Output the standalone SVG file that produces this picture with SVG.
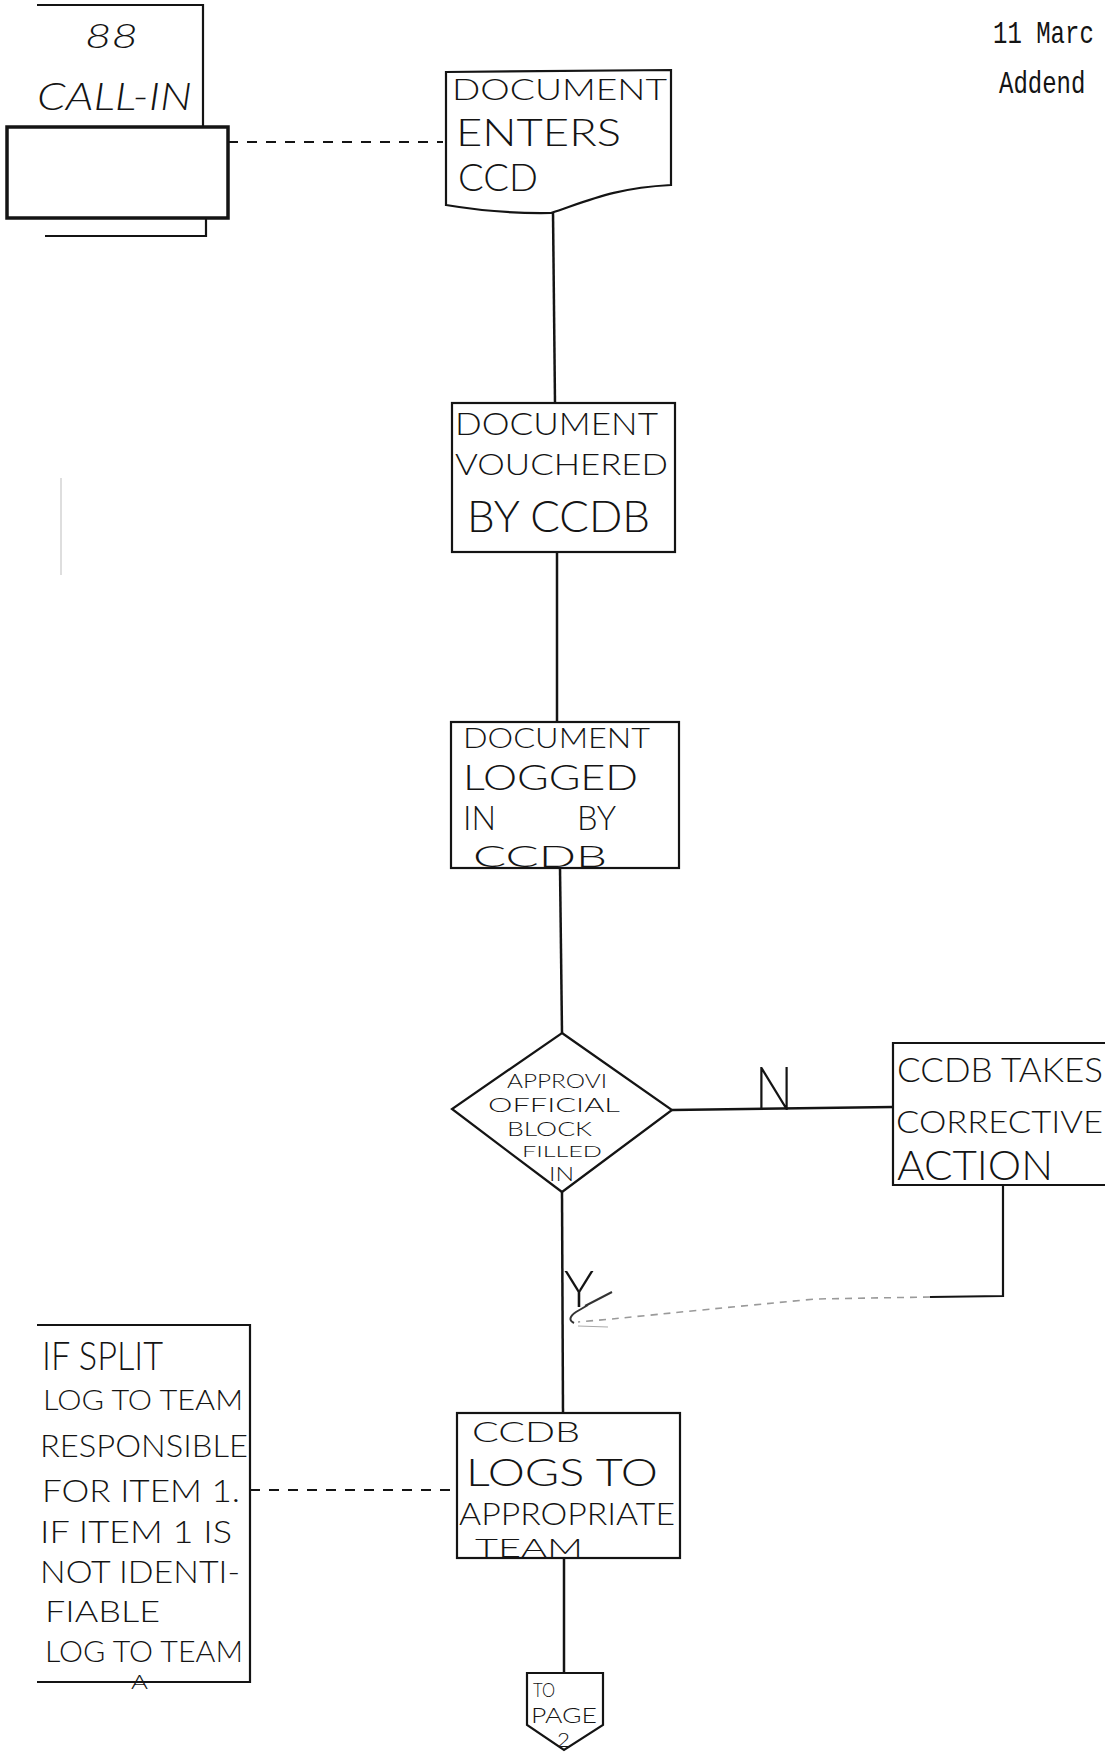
<svg xmlns="http://www.w3.org/2000/svg" width="1105" height="1752" viewBox="0 0 1105 1752">
<style>
.ln{fill:none;stroke:#141414;stroke-width:2.2;stroke-linejoin:miter}
.thick{fill:#fff;stroke:#141414;stroke-width:3.5}
.conn{fill:none;stroke:#141414;stroke-width:2.5}
.dash{fill:none;stroke:#141414;stroke-width:2;stroke-dasharray:10 9}
.faint{fill:none;stroke:#9a9a9a;stroke-width:1.6;stroke-dasharray:7 6}
.h{font-family:Lato,"DejaVu Sans","Liberation Sans",sans-serif;font-weight:300;fill:#141414}
.it{font-style:italic}
.type{font-family:"Liberation Mono","DejaVu Sans Mono",monospace;fill:#141414}
</style>
<rect x="0" y="0" width="1105" height="1752" fill="#fff"/>

<g id="header">
<text class="type" transform="translate(993,43) scale(1,1.3)" font-size="24">11 Marc</text>
<text class="type" transform="translate(999,93) scale(1,1.3)" font-size="24">Addend</text>
<line x1="61" y1="478" x2="61" y2="575" stroke="#c8c8c8" stroke-width="1.2"/>
</g>

<g id="connectors">
<path class="dash" d="M228,142 L443,142"/>
<path class="conn" d="M553,212 L555,403"/>
<path class="conn" d="M557,552 L557,722"/>
<path class="conn" d="M560,868 L562,1033"/>
<path class="conn" d="M672,1110 L893,1107"/>
<path class="conn" d="M562,1192 L563,1413"/>
<path class="ln" d="M1003,1185 L1003,1296 L930,1297"/>
<path class="faint" d="M930,1297 L815,1299 Q700,1310 612,1319 L578,1322"/>
<path fill="none" stroke="#333" stroke-width="2" d="M588,1305 L576,1312 Q566,1319 574,1323 M585,1306 L612,1292"/>
<path fill="none" stroke="#aaa" stroke-width="1.2" d="M578,1326 L608,1327"/>
<path class="conn" d="M564,1558 L564,1673"/>
<path class="dash" d="M250,1490 L457,1490"/>
<text class="h" x="755" y="1110" font-size="62" textLength="38" lengthAdjust="spacingAndGlyphs">N</text>
<text class="h" x="564" y="1307" font-size="52" textLength="30" lengthAdjust="spacingAndGlyphs">Y</text>
</g>

<g id="call-in">
<path class="ln" d="M37,5 L203,5 L203,127"/>
<path class="ln" d="M206,218 L206,236 L45,236"/>
<rect class="thick" x="7" y="127" width="221" height="91"/>
<text class="h it" x="85" y="48" font-size="34" textLength="53" lengthAdjust="spacingAndGlyphs">88</text>
<text class="h it" x="37" y="110" font-size="37" textLength="155" lengthAdjust="spacingAndGlyphs">CALL-IN</text>
</g>

<g id="document-enters">
<path class="ln" d="M446,72 L671,70 L671,185 C615,188 590,200 551,213 Q500,214 446,205 Z"/>
<text class="h" x="452" y="100" font-size="30" textLength="215" lengthAdjust="spacingAndGlyphs">DOCUMENT</text>
<text class="h" x="456" y="146" font-size="37" textLength="165" lengthAdjust="spacingAndGlyphs">ENTERS</text>
<text class="h" x="458" y="191" font-size="37" textLength="80" lengthAdjust="spacingAndGlyphs">CCD</text>
</g>

<g id="vouchered">
<rect class="ln" x="452" y="403" width="223" height="149"/>
<text class="h" x="455" y="435" font-size="32" textLength="203" lengthAdjust="spacingAndGlyphs">DOCUMENT</text>
<text class="h" x="455" y="475" font-size="30" textLength="213" lengthAdjust="spacingAndGlyphs">VOUCHERED</text>
<text class="h" x="467" y="532" font-size="44" textLength="183" lengthAdjust="spacingAndGlyphs">BY CCDB</text>
</g>

<g id="logged">
<rect class="ln" x="451" y="722" width="228" height="146"/>
<text class="h" x="463" y="748" font-size="27" textLength="187" lengthAdjust="spacingAndGlyphs">DOCUMENT</text>
<text class="h" x="463" y="790" font-size="36" textLength="175" lengthAdjust="spacingAndGlyphs">LOGGED</text>
<text class="h" font-size="32.5"><tspan x="463" y="830">IN</tspan><tspan x="577" y="830">BY</tspan></text>
<text class="h" x="473" y="867" font-size="30" textLength="134" lengthAdjust="spacingAndGlyphs">CCDB</text>
</g>

<g id="decision">
<polygon class="ln" points="562,1033 672,1110 562,1192 452,1109"/>
<text class="h" x="507" y="1088" font-size="20" textLength="100" lengthAdjust="spacingAndGlyphs">APPROVI</text>
<text class="h" x="488" y="1112" font-size="20" textLength="132" lengthAdjust="spacingAndGlyphs">OFFICIAL</text>
<text class="h" x="507" y="1136" font-size="20" textLength="85" lengthAdjust="spacingAndGlyphs">BLOCK</text>
<text class="h" x="522" y="1157" font-size="16.5" textLength="80" lengthAdjust="spacingAndGlyphs">FILLED</text>
<text class="h" x="549" y="1181" font-size="20" textLength="25" lengthAdjust="spacingAndGlyphs">IN</text>
</g>

<g id="corrective">
<path class="ln" d="M1105,1043 L893,1043 L893,1185 L1105,1185"/>
<text class="h" x="897" y="1082" font-size="33" textLength="206" lengthAdjust="spacingAndGlyphs">CCDB TAKES</text>
<text class="h" x="896" y="1133" font-size="32" textLength="207" lengthAdjust="spacingAndGlyphs">CORRECTIVE</text>
<text class="h" x="897" y="1180" font-size="40.5" textLength="156" lengthAdjust="spacingAndGlyphs">ACTION</text>
</g>

<g id="logs-to-team">
<rect class="ln" x="457" y="1413" width="223" height="145"/>
<text class="h" x="472" y="1442" font-size="28" textLength="108" lengthAdjust="spacingAndGlyphs">CCDB</text>
<text class="h" x="466" y="1486" font-size="38" textLength="192" lengthAdjust="spacingAndGlyphs">LOGS TO</text>
<text class="h" x="459" y="1525" font-size="31" textLength="216" lengthAdjust="spacingAndGlyphs">APPROPRIATE</text>
<text class="h" x="475" y="1557" font-size="25.5" textLength="108" lengthAdjust="spacingAndGlyphs">TEAM</text>
</g>

<g id="split-note">
<path class="ln" d="M37,1325 L250,1325 L250,1682 L37,1682"/>
<text class="h" x="42" y="1370" font-size="39" textLength="121" lengthAdjust="spacingAndGlyphs">IF SPLIT</text>
<text class="h" x="43" y="1410" font-size="28" textLength="200" lengthAdjust="spacingAndGlyphs">LOG TO TEAM</text>
<text class="h" x="40" y="1457" font-size="32" textLength="208" lengthAdjust="spacingAndGlyphs">RESPONSIBLE</text>
<text class="h" x="42" y="1502" font-size="32" textLength="198" lengthAdjust="spacingAndGlyphs">FOR ITEM 1.</text>
<text class="h" x="40" y="1543" font-size="32" textLength="192" lengthAdjust="spacingAndGlyphs">IF ITEM 1 IS</text>
<text class="h" x="40" y="1583" font-size="32" textLength="200" lengthAdjust="spacingAndGlyphs">NOT IDENTI-</text>
<text class="h" x="45" y="1622" font-size="30" textLength="115" lengthAdjust="spacingAndGlyphs">FIABLE</text>
<text class="h" x="45" y="1662" font-size="30" textLength="198" lengthAdjust="spacingAndGlyphs">LOG TO TEAM</text>
<text class="h" x="131" y="1689" font-size="19" textLength="17" lengthAdjust="spacingAndGlyphs">A</text>
</g>

<g id="to-page">
<polygon class="ln" points="527,1673 603,1673 603,1725 564,1750 527,1725"/>
<text class="h" x="533" y="1697" font-size="20" textLength="22" lengthAdjust="spacingAndGlyphs">TO</text>
<text class="h" x="531" y="1723" font-size="21.5" textLength="66" lengthAdjust="spacingAndGlyphs">PAGE</text>
<text class="h" x="557" y="1747" font-size="19" textLength="13" lengthAdjust="spacingAndGlyphs">2</text>
</g>
</svg>
